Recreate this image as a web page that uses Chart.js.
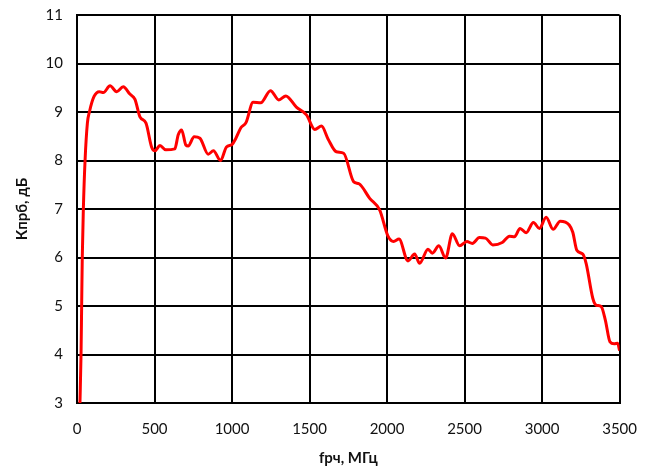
<!DOCTYPE html>
<html>
<head>
<meta charset="utf-8">
<script src="https://cdn.jsdelivr.net/npm/chart.js@4"></script>
<style>
  body { margin: 0; background: #fff; }
  .wrap { width: 654px; height: 471px; }
</style>
</head>
<body>
<div class="wrap"><canvas id="myChart"></canvas></div>
<script>
// data
const freqs = [19, 26, 30, 34, 41, 52, 67, 80, 110, 144, 170, 213, 256, 298, 341, 374, 406, 445, 481, 503, 535, 573,
  631, 653, 675, 702, 717, 756, 793, 846, 880, 926, 964, 1000, 1025, 1058, 1090, 1136, 1185, 1248, 1302, 1347,
  1415, 1480, 1534, 1577, 1620, 1673, 1720, 1785, 1819, 1888, 1952, 2006, 2042, 2077, 2135, 2178, 2210, 2264,
  2292, 2334, 2378, 2421, 2468, 2515, 2550, 2596, 2635, 2682, 2743, 2790, 2822, 2858, 2897, 2944, 2983, 3026,
  3071, 3117, 3175, 3198, 3224, 3262, 3284, 3327, 3348, 3381, 3408, 3438, 3465, 3487, 3500];
const kValues = [3.0, 4.0, 5.0, 6.0, 7.0, 8.0, 8.77, 9.0, 9.32, 9.42, 9.40, 9.54, 9.42, 9.52, 9.37, 9.26, 8.90, 8.77, 8.28, 8.20, 8.31, 8.22,
  8.24, 8.53, 8.63, 8.32, 8.30, 8.49, 8.46, 8.13, 8.20, 8.00, 8.28, 8.33, 8.46, 8.68, 8.78, 9.20, 9.19, 9.44, 9.25, 9.33,
  9.10, 8.94, 8.64, 8.71, 8.44, 8.18, 8.15, 7.56, 7.52, 7.22, 6.98, 6.44, 6.33, 6.38, 5.93, 6.07, 5.88, 6.17,
  6.09, 6.24, 5.99, 6.49, 6.24, 6.33, 6.29, 6.41, 6.40, 6.26, 6.31, 6.44, 6.43, 6.60, 6.51, 6.72, 6.60, 6.83,
  6.58, 6.75, 6.67, 6.52, 6.15, 6.07, 5.88, 5.16, 5.02, 4.99, 4.71, 4.26, 4.22, 4.23, 4.08];
const xTicks = [0, 500, 1000, 1500, 2000, 2500, 3000, 3500];
const yTicks = [3, 4, 5, 6, 7, 8, 9, 10, 11];

const points = freqs.map((f, i) => ({ x: f, y: kValues[i] }));
const fontName = "Lato, 'Open Sans', sans-serif";

const ctx = document.getElementById('myChart');
new Chart(ctx, {
  type: 'line',
  data: {
    datasets: [{
      data: points,
      borderColor: '#ff0000',
      borderWidth: 3,
      pointRadius: 0,
      cubicInterpolationMode: 'monotone',
      fill: false
    }]
  },
  options: {
    responsive: true,
    maintainAspectRatio: false,
    animation: false,
    layout: { padding: { left: 0, right: 34, top: 15, bottom: 0 } },
    plugins: {
      legend: { display: false },
      tooltip: { enabled: false }
    },
    scales: {
      x: {
        type: 'linear',
        min: 0,
        max: 3500,
        afterBuildTicks: (scale) => { scale.ticks = xTicks.map(v => ({ value: v })); },
        afterFit: (scale) => { scale.height = 68; },
        ticks: {
          color: '#111',
          font: { family: fontName, size: 15 },
          padding: 17,
          maxRotation: 0,
          callback: (v) => String(v)
        },
        grid: { color: '#000', lineWidth: 2, drawTicks: false },
        border: { color: '#000', width: 2 },
        title: {
          display: true,
          text: 'fрч, МГц',
          color: '#111',
          font: { family: fontName, size: 15, weight: 'bold' },
          padding: { top: 0, bottom: 4 }
        }
      },
      y: {
        min: 3,
        max: 11,
        afterBuildTicks: (scale) => { scale.ticks = yTicks.map(v => ({ value: v })); },
        afterFit: (scale) => {
          scale.width = 77;
          // keep the plot top where the picture has it
          scale.paddingTop = 0;
          scale.paddingBottom = 0;
        },
        ticks: { color: '#111', font: { family: fontName, size: 15 }, padding: 14 },
        grid: { color: '#000', lineWidth: 2, drawTicks: false },
        border: { color: '#000', width: 2 },
        title: {
          display: true,
          text: 'Кпрб, дБ',
          color: '#111',
          font: { family: fontName, size: 15, weight: 'bold' },
          padding: { top: 13, bottom: 0 }
        }
      }
    }
  }
});
</script>
</body>
</html>
